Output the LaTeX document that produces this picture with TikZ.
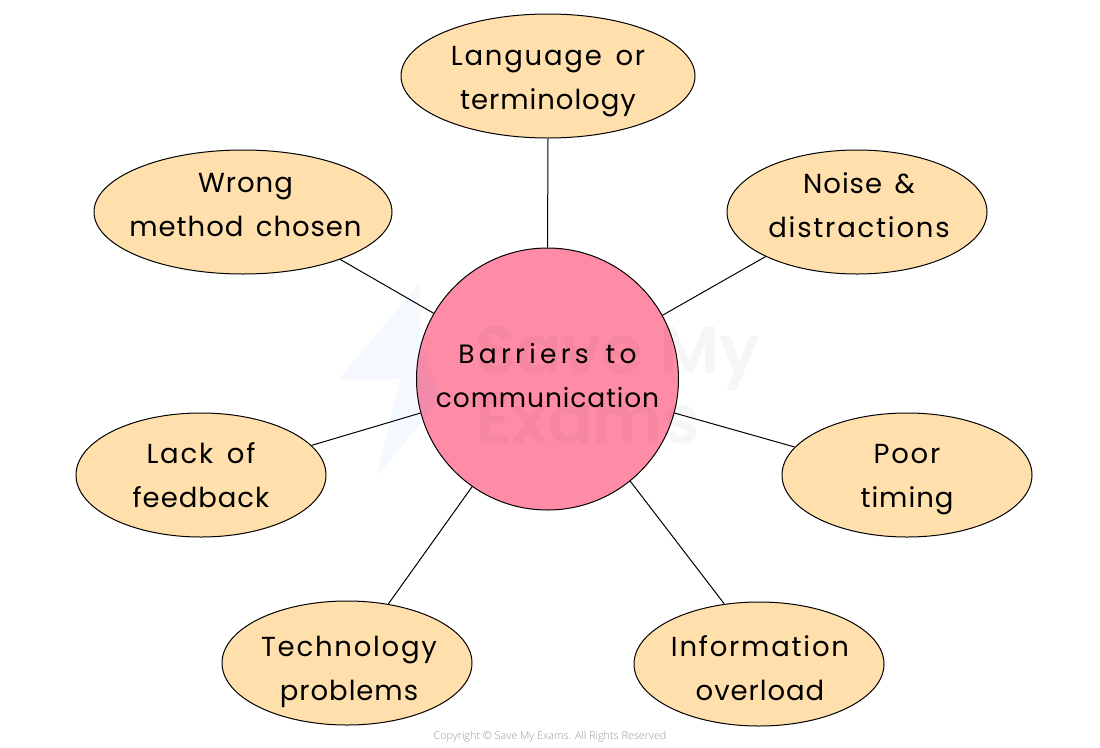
\documentclass[tikz,border=0pt]{standalone}
\usepackage{fontspec}
\setmainfont{Poppins}[LetterSpace=3.5,WordSpace=1.5]
\newfontfamily\copyfont{Open Sans}[UprightFont=*-Light]
\newfontfamily\wmfont{Poppins}[UprightFont=*-SemiBold]
\usetikzlibrary{shapes.geometric}
\definecolor{petal}{HTML}{FFE0AD}
\definecolor{hub}{HTML}{FF8CA6}
\tikzset{
  petalnode/.style={ellipse,draw=black,line width=1pt,fill=petal,inner sep=0pt,minimum height=124pt},
  hubnode/.style={circle,draw=black,line width=1pt,fill=hub,inner sep=0pt,minimum size=262pt},
  lbl/.style={align=center,inner sep=0pt,font=\fontsize{27.5}{43.5}\selectfont},
  hublbl/.style={align=center,inner sep=0pt,font=\fontsize{26.5}{43.5}\selectfont},
  link/.style={draw=black,line width=1pt},
  wmark/.style={text=black,opacity=0.035,font=\wmfont\fontsize{67}{70}\selectfont,align=left}
}
\newcommand{\widerA}{\addfontfeature{LetterSpace=6.5}}
\begin{document}
\begin{tikzpicture}[x=1pt,y=-1pt]
\useasboundingbox (0,0) rectangle (1100,747);
\fill[white] (0,0) rectangle (1100,747);
\node[hubnode] (hub) at (547.5,379) {};
\node[petalnode,minimum width=294pt] (lang) at (548,76) {};
\node[petalnode,minimum width=298pt] (wrong) at (243,212) {};
\node[petalnode,minimum width=260pt] (noise) at (857,212) {};
\node[petalnode,minimum width=250pt] (lack) at (201,475) {};
\node[petalnode,minimum width=250pt] (poor) at (907,475) {};
\node[petalnode,minimum width=250pt] (tech) at (347,663) {};
\node[petalnode,minimum width=250pt] (info) at (759,664) {};
\draw[link] (hub.90) -- (lang.270);
\draw[link] (hub.150) -- (wrong.-26.3);
\draw[link] (hub.29.2) -- (noise.206.1);
\draw[link] (hub.195.8) -- (lack.15);
\draw[link] (hub.-15.2) -- (poor.166);
\draw[link] (hub.-125.7) -- (tech.55.9);
\draw[link] (hub.-51.6) -- (info.120.7);
\fill[blue!60!cyan,opacity=0.045] (420,283) -- (339,379) -- (400,379) -- (377,476) -- (440,400) -- (420,340) -- cycle;
\node[wmark,anchor=west] (wm) at (472,385) {Save My\\Exams};
\node[lbl] (langt) at (548,79) {\strut\widerA Language or\\\strut terminology};
\node[lbl] (wrongt) at (245.5,206) {\strut Wrong\\\strut method chosen};
\node[lbl] (noiset) at (859,207) {\strut Noise \&\\\strut\widerA distractions};
\node[lbl] (lackt) at (201,477) {\strut\widerA Lack of\\\strut feedback};
\node[lbl] (poort) at (907,477) {\strut\widerA Poor\\\strut timing};
\node[lbl] (techt) at (349,670) {\strut\widerA Technology\\\strut problems};
\node[lbl] (infot) at (760,670) {\strut\widerA Information\\\strut overload};
\node[hublbl] (hubt) at (547.5,377) {\strut\addfontfeature{LetterSpace=16}Barriers to\\\strut communication};
\node[font=\copyfont\fontsize{10.8}{13}\selectfont,text=black!40] (copy) at (550,736.5) {Copyright © Save My Exams. All Rights Reserved};
\end{tikzpicture}
\end{document}
